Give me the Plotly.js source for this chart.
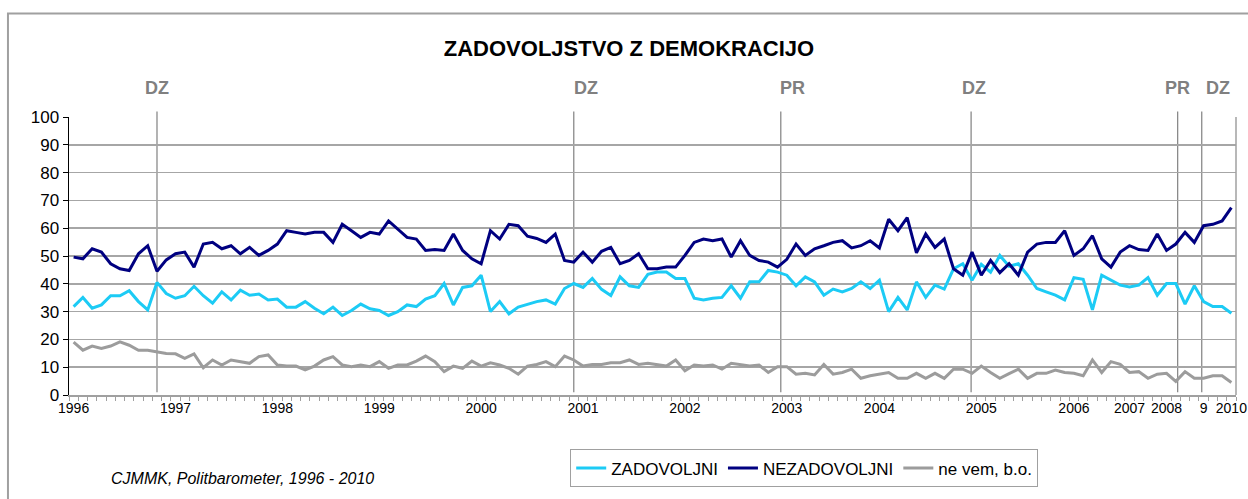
<!DOCTYPE html>
<html>
<head>
<meta charset="utf-8">
<script src="https://cdn.plot.ly/plotly-3.0.1.min.js"></script>
<style>
  html, body { margin: 0; padding: 0; background: #fff; overflow: hidden; }
  #chart { width: 1248px; height: 499px; }
</style>
</head>
<body>
<div id="chart"></div>
<script>
// ---- data ----
const seriesNames = ['ZADOVOLJNI', 'NEZADOVOLJNI', 'ne vem, b.o.'];

const zadovoljni = [
  31.8, 35.1, 31.2, 32.4, 35.7, 35.7, 37.5, 33.6, 30.6, 40.5,
  36.5, 34.8, 35.7, 39.1, 35.7, 33.0, 37.1, 34.2, 37.7, 35.9,
  36.3, 34.2, 34.5, 31.6, 31.6, 33.6, 31.2, 29.2, 31.6, 28.6,
  30.4, 32.7, 31.0, 30.4, 28.6, 30.0, 32.4, 31.8, 34.5, 35.7,
  40.1, 32.4, 38.7, 39.3, 43.1, 30.0, 33.6, 29.2, 31.6, 32.7,
  33.6, 34.2, 32.7, 38.3, 40.1, 38.7, 41.9, 38.0, 35.8, 42.5,
  39.3, 38.7, 43.4, 44.2, 44.2, 41.9, 41.9, 34.8, 34.2, 34.8,
  35.1, 39.3, 34.8, 40.7, 40.7, 44.8, 44.2, 43.1, 39.3, 42.5,
  40.7, 35.9, 38.1, 37.1, 38.3, 40.7, 38.3, 41.3, 30.0, 35.1,
  30.6, 40.7, 35.1, 39.5, 38.1, 45.4, 47.2, 41.3, 47.0, 44.2,
  50.2, 46.3, 47.2, 43.1, 38.3, 37.1, 35.9, 34.2, 42.2, 41.6,
  30.6, 43.1, 41.3, 39.5, 38.9, 39.5, 42.2, 35.9, 40.1, 40.1,
  32.7, 39.3, 33.6, 31.8, 31.8, 29.4
];

const nezadovoljni = [
  49.6, 49.0, 52.6, 51.4, 47.2, 45.4, 44.8, 50.8, 53.7, 44.5,
  48.6, 50.8, 51.4, 46.0, 54.3, 54.9, 52.6, 53.7, 50.8, 53.1,
  50.2, 52.0, 54.3, 59.1, 58.5, 57.9, 58.5, 58.5, 54.9, 61.4,
  59.1, 56.7, 58.5, 57.9, 62.6, 59.7, 56.7, 56.1, 52.0, 52.3,
  52.0, 57.9, 52.0, 49.0, 47.2, 59.1, 56.1, 61.4, 60.9, 57.1,
  56.3, 54.9, 57.9, 48.4, 47.8, 51.4, 47.8, 51.7, 53.1, 47.2,
  48.4, 50.8, 45.4, 45.4, 46.0, 46.0, 50.2, 54.9, 56.1, 55.5,
  56.1, 49.6, 55.5, 50.2, 48.4, 47.8, 46.0, 48.8, 54.3, 50.2,
  52.6, 53.7, 54.9, 55.5, 52.9, 53.7, 55.5, 52.9, 63.2, 59.1,
  63.8, 51.1, 57.9, 53.1, 56.1, 45.4, 43.1, 51.4, 43.1, 48.4,
  44.0, 47.2, 43.1, 51.4, 54.3, 54.9, 54.9, 59.1, 50.2, 52.6,
  57.3, 49.0, 46.0, 51.4, 53.7, 52.3, 52.0, 57.9, 52.0, 54.3,
  58.5, 54.9, 60.9, 61.4, 62.6, 67.4
];

const neVem = [
  19.0, 16.1, 17.6, 16.7, 17.6, 19.1, 17.9, 16.1, 16.1, 15.4,
  14.9, 14.8, 13.2, 14.8, 9.8, 12.6, 10.8, 12.6, 12.0, 11.4,
  13.8, 14.4, 10.8, 10.4, 10.4, 9.0, 10.4, 12.6, 13.8, 10.8,
  10.2, 10.8, 10.2, 12.0, 9.6, 10.8, 10.8, 12.2, 14.0, 12.0,
  8.4, 10.4, 9.6, 12.2, 10.4, 11.6, 10.8, 9.6, 7.5, 10.4,
  11.0, 12.0, 10.2, 14.0, 12.6, 10.4, 11.0, 11.0, 11.6, 11.6,
  12.6, 11.0, 11.4, 10.8, 10.4, 12.6, 8.7, 10.8, 10.4, 10.8,
  9.3, 11.4, 10.8, 10.4, 10.8, 8.1, 10.2, 10.2, 7.5, 7.8,
  7.2, 11.0, 7.5, 8.1, 9.3, 6.0, 6.9, 7.5, 8.1, 6.0,
  6.0, 7.8, 6.0, 7.8, 6.0, 9.3, 9.3, 7.8, 10.4, 8.1,
  6.0, 7.7, 9.3, 6.0, 7.8, 7.8, 9.0, 8.1, 7.8, 6.9,
  12.6, 8.1, 12.0, 11.0, 8.1, 8.4, 6.0, 7.5, 7.8, 4.9,
  8.4, 6.0, 6.0, 6.9, 6.9, 4.5
];

// year labels and the survey index where each one sits
const yearLabels = ['1996', '1997', '1998', '1999', '2000', '2001', '2002', '2003',
                    '2004', '2005', '2006', '2007', '2008', '9', '2010'];
const yearIndex  = [0, 11, 22, 33, 44, 55, 66, 77, 87, 98, 108, 114, 118, 122, 125];

// election markers (DZ = parliament, PR = president)
const eventLabels = ['DZ', 'DZ', 'PR', 'DZ', 'PR', 'DZ'];
const eventIndex  = [9, 54, 76.35, 96.9, 119.2, 121.8];

// ---- build ----
const n = zadovoljni.length;
const xs = zadovoljni.map((_, i) => i);

const tickvals = xs.slice();
const ticktext = xs.map(i => {
  const k = yearIndex.indexOf(i);
  return k >= 0 ? yearLabels[k] : '';
});

const colors = ['#1ccbf5', '#000080', '#9c9c9c'];
const values = [zadovoljni, nezadovoljni, neVem];

const traces = values.map((v, k) => ({
  type: 'scatter',
  mode: 'lines',
  x: xs,
  y: v,
  name: seriesNames[k],
  line: { color: colors[k], width: 3 },
  hoverinfo: 'x+y+name'
}));

const labelShift = [0, 12, 12, 3, 0, 16];

const shapes = eventIndex.map(xi => ({
  type: 'line', xref: 'x', yref: 'paper',
  x0: xi, x1: xi, y0: 0.01, y1: 1.02,
  line: { color: '#8a8a8a', width: 1.3 },
  layer: 'below'
}));
// right frame of the plot area
shapes.push({
  type: 'line', xref: 'paper', yref: 'paper',
  x0: 1, x1: 1, y0: 0, y1: 1,
  line: { color: '#a0a0a0', width: 1.5 }
});
// outer chart border
shapes.push({
  type: 'rect', xref: 'paper', yref: 'paper',
  x0: -0.0523, x1: 1.2, y0: -0.6, y1: 1.372,
  line: { color: '#a0a0a0', width: 2 },
  fillcolor: 'rgba(0,0,0,0)'
});

const annotations = eventIndex.map((xi, k) => ({
  x: xi, xref: 'x', y: 1.103, yref: 'paper',
  text: eventLabels[k], showarrow: false,
  xshift: labelShift[k],
  xanchor: 'center', yanchor: 'middle',
  font: { family: 'Liberation Sans, Arial, sans-serif', size: 18, color: '#808080', weight: 'bold' }
}));
annotations.push({
  x: 0.149, xref: 'paper', y: -0.299, yref: 'paper',
  text: '<i>CJMMK, Politbarometer, 1996 - 2010</i>',
  showarrow: false, xanchor: 'center', yanchor: 'middle',
  font: { family: 'Liberation Sans, Arial, sans-serif', size: 16, color: '#000' }
});

const layout = {
  width: 1248, height: 499,
  margin: { l: 69, r: 12, t: 117, b: 101 },
  paper_bgcolor: '#ffffff',
  plot_bgcolor: '#ffffff',
  font: { family: 'Liberation Sans, Arial, sans-serif', color: '#000' },
  title: {
    text: '<b>ZADOVOLJSTVO Z DEMOKRACIJO</b>',
    x: 0.504, xanchor: 'center',
    y: 0.904, yanchor: 'middle',
    font: { family: 'Liberation Sans, Arial, sans-serif', size: 22, color: '#000' }
  },
  xaxis: {
    range: [-0.5, n - 0.5],
    tickmode: 'array',
    tickvals: tickvals,
    ticktext: ticktext,
    ticks: '',
    showgrid: false,
    zeroline: false,
    showline: true,
    linecolor: '#a0a0a0',
    linewidth: 1.5,
    tickfont: { size: 14, color: '#000' },
    tickangle: 0,
    minor: { tick0: -0.5, dtick: 1, ticks: 'outside', ticklen: 4, tickcolor: '#a0a0a0', tickwidth: 1, showgrid: false },
    fixedrange: true
  },
  yaxis: {
    range: [0, 100],
    dtick: 10,
    ticks: 'outside',
    ticklen: 5,
    tickcolor: '#000',
    showline: true,
    linecolor: '#000',
    linewidth: 1.5,
    showgrid: true,
    gridcolor: '#a6a6a6',
    gridwidth: 1.5,
    zeroline: false,
    tickfont: { size: 17, color: '#000' },
    fixedrange: true
  },
  showlegend: true,
  legend: {
    orientation: 'h',
    x: 0.630, xanchor: 'center',
    y: -0.196, yanchor: 'top',
    bordercolor: '#a0a0a0', borderwidth: 1,
    bgcolor: '#ffffff',
    font: { size: 17, color: '#000' },
    itemwidth: 30,
    traceorder: 'normal'
  },
  shapes: shapes,
  annotations: annotations
};

Plotly.newPlot('chart', traces, layout, { displayModeBar: false, staticPlot: true });
</script>
</body>
</html>
